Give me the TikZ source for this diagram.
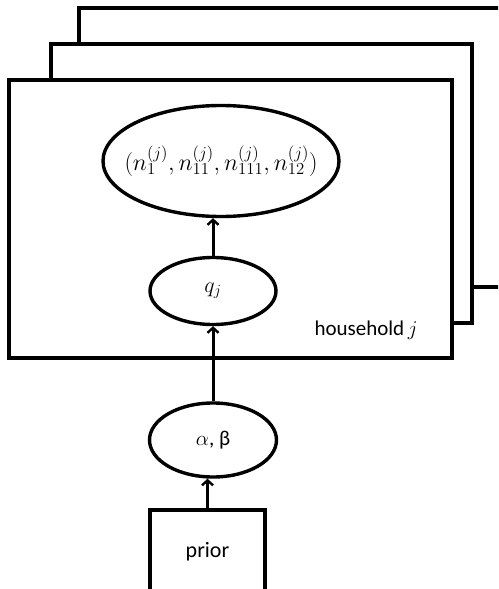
\documentclass[tikz,border=0pt]{standalone}
\usepackage{fix-cm}
\usepackage{fontspec}
\setmainfont{Carlito}
\usetikzlibrary{arrows.meta,shapes.geometric}
\begin{document}
\begin{tikzpicture}[x=1pt,y=-1pt,
  thick line/.style={line width=3.4pt},
  plate/.style={thick line, fill=white, line join=miter},
  var/.style={ellipse, draw, line width=3.4pt, inner sep=0pt},
  box/.style={rectangle, draw, line width=3.4pt, inner sep=0pt},
  conn/.style={line width=3pt, -{Straight Barb[length=5pt,width=11pt,line width=2.4pt]}},
  lbl/.style={font=\fontsize{21}{25}\selectfont}]
\useasboundingbox (0,0) rectangle (498,589);
\clip (0,0) rectangle (498,589);
% plates
\draw[plate] (79,287) -- (79,8) -- (530,8) -- (530,287) -- cycle;
\draw[plate] (51,44) rectangle (472,323);
\draw[plate] (9,80) rectangle (452,358);
\node[lbl, anchor=center] (hh) at (366,330) {household\,$j$};
% nodes
\node[var, minimum width=236, minimum height=111,
  label={[font=\fontsize{24}{28}\selectfont, inner sep=0pt]center:$(n_1^{(j)}, n_{11}^{(j)}, n_{111}^{(j)}, n_{12}^{(j)})$}] (obs) at (221,161) {};
\node[var, minimum width=126, minimum height=67] (q) at (213,291)
  {\fontsize{22}{26}\selectfont$q_j$};
\node[var, minimum width=127, minimum height=74] (ab) at (213,440)
  {\fontsize{21}{25}\selectfont$\alpha$, β};
\node[box, minimum width=115, minimum height=84, font=\fontsize{22}{26}\selectfont] (prior) at (207.5,552) {prior};
% connectors
\draw[conn] (q.north) -- (q.north |- obs.south);
\draw[conn] (ab.north) -- (q.south);
\draw[conn] (prior.north) -- (prior.north |- ab.south);
\end{tikzpicture}
\end{document}
